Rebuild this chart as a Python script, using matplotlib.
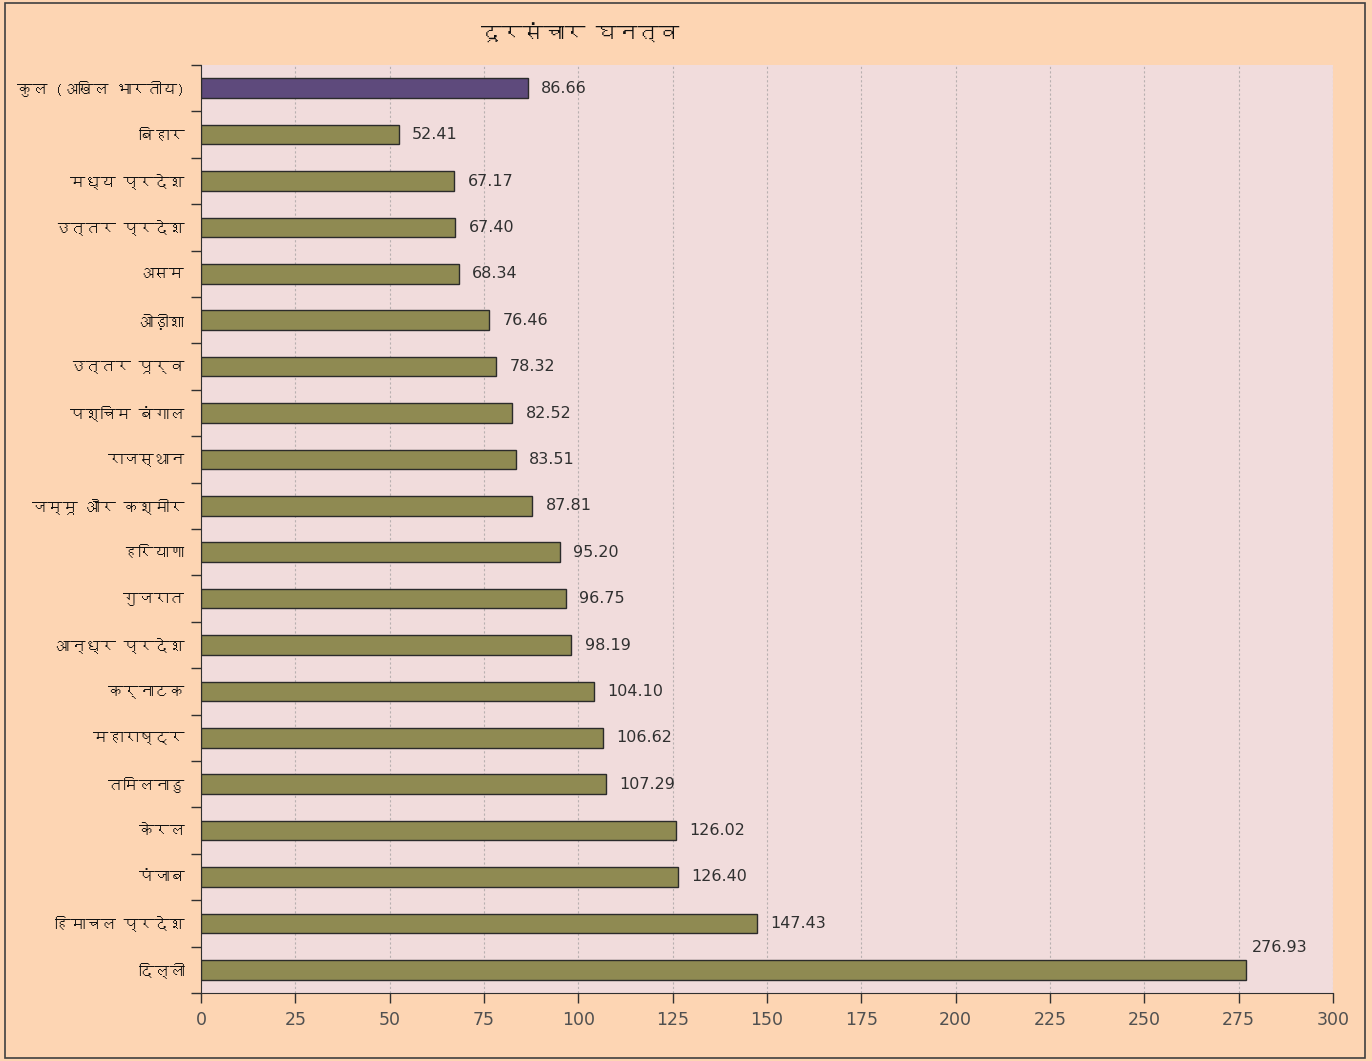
import matplotlib
matplotlib.use("Agg")
import matplotlib.pyplot as plt
from matplotlib import font_manager
from matplotlib.ft2font import FT2Font
from matplotlib.patches import Rectangle

# data, top to bottom as in the picture
states = ["कुल (अखिल भारतीय)", "बिहार", "मध्य प्रदेश", "उत्तर प्रदेश", "असम",
          "ओड़ीशा", "उत्तर पूर्व", "पश्चिम बंगाल", "राजस्थान", "जम्मू और कश्मीर",
          "हरियाणा", "गुजरात", "आन्ध्र प्रदेश", "कर्नाटक", "महाराष्ट्र",
          "तमिलनाडु", "केरल", "पंजाब", "हिमाचल प्रदेश", "दिल्ली"]
density = [86.66, 52.41, 67.17, 67.40, 68.34, 76.46, 78.32, 82.52, 83.51, 87.81,
           95.20, 96.75, 98.19, 104.10, 106.62, 107.29, 126.02, 126.40, 147.43, 276.93]
xticks = [0, 25, 50, 75, 100, 125, 150, 175, 200, 225, 250, 275, 300]
title = "दूरसंचार घनत्व"


def find_deva_font():
    # look for any installed font that covers Devanagari
    for f in font_manager.fontManager.ttflist:
        try:
            cmap = FT2Font(f.fname).get_charmap()
        except Exception:
            continue
        if 0x0915 in cmap and 0x093F in cmap:
            return f.name
    return None


deva = find_deva_font()
deva_family = [deva, "DejaVu Sans"] if deva else ["DejaVu Sans"]

fig = plt.figure(figsize=(13.72, 10.61), dpi=100)
fig.patch.set_facecolor("#fdd5b3")
fig.patches.append(Rectangle((0.004, 0.003), 0.991, 0.994, transform=fig.transFigure,
                             fill=False, edgecolor="#404040", linewidth=1.2))

ax = fig.add_axes([0.1465, 0.0641, 0.825, 0.8746])
ax.set_facecolor("#f1dcdc")

n = len(states)
ypos = list(range(n))
colors = ["#5e4a7c"] + ["#8f8a52"] * (n - 1)
ax.barh(ypos, density, height=0.42, color=colors, edgecolor="#2b2b2b", linewidth=1.0, zorder=3)

for i, v in enumerate(density):
    if v > 250:
        ax.text(v + 1.5, i - 0.48, f"{v:.2f}", va="center", ha="left",
                fontsize=11.5, color="#303030", zorder=4)
    else:
        ax.text(v + 3.5, i, f"{v:.2f}", va="center", ha="left",
                fontsize=11.5, color="#303030", zorder=4)

ax.set_xlim(0, 300)
ax.set_ylim(n - 0.5, -0.5)
ax.set_xticks(xticks)
ax.set_xticklabels([str(t) for t in xticks], fontsize=12.5, color="#505050")
ax.xaxis.grid(True, color="#b8b0b0", linestyle=(0, (2, 2)), linewidth=0.8, zorder=0)

ax.set_yticks(ypos)
ax.set_yticklabels(states, fontsize=11, fontweight="bold", family=deva_family, color="#111111")
ax.tick_params(axis="y", length=0, pad=12)
ax.set_yticks([k - 0.5 for k in range(n + 1)], minor=True)
ax.tick_params(axis="y", which="minor", length=7, width=1, color="#303030")
ax.tick_params(axis="x", length=7, width=1, color="#303030", pad=6)

for side in ["top", "right"]:
    ax.spines[side].set_visible(False)
ax.spines["left"].set_color("#303030")
ax.spines["bottom"].set_color("#303030")

fig.text(0.423, 0.968, title, ha="center", va="center", fontsize=15,
         family=deva_family, color="#111111")

fig.savefig("out.png", dpi=100, facecolor=fig.get_facecolor())
